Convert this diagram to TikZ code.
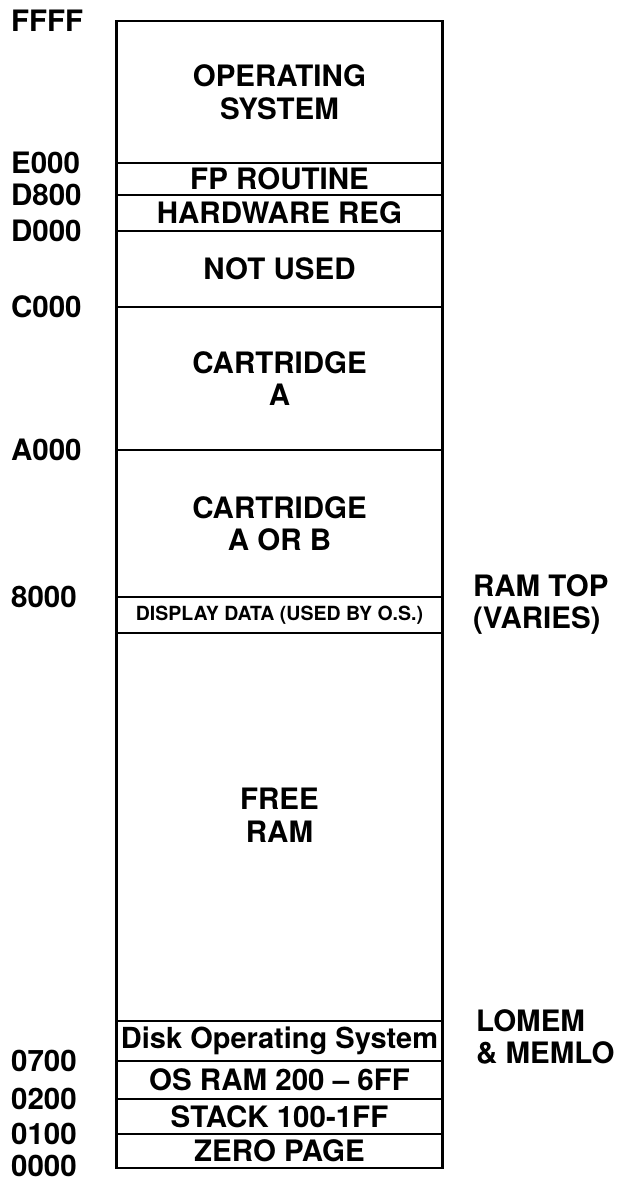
\documentclass[tikz,border=0pt]{standalone}
\usepackage{fontspec}
\setmainfont{TeX Gyre Heros}
\usetikzlibrary{positioning}

\begin{document}
\begin{tikzpicture}[x=1pt, y=-1pt, line width=2.2pt,
    % styles
    region/.style={draw, rectangle, inner sep=0pt, outer sep=0pt,
        minimum width=326pt, align=center,
        font=\bfseries\fontsize{29.5}{32.5}\selectfont},
    addr/.style={anchor=west, inner sep=0pt,
        font=\bfseries\fontsize{29.5}{32}\selectfont},
    note/.style={anchor=west, inner sep=0pt, align=left,
        font=\bfseries\fontsize{29.5}{32}\selectfont}
]
    \useasboundingbox (0,0) rectangle (619,1181);

    % --- memory blocks, top to bottom ---
    \node[region, minimum height=142pt, anchor=north] (os) at (279.5,21) {OPERATING\\SYSTEM};
    \node[region, minimum height=32pt,  below=0pt of os]      (fp)      {FP ROUTINE};
    \node[region, minimum height=36pt,  below=0pt of fp]      (hw)      {HARDWARE REG};
    \node[region, minimum height=76pt,  below=0pt of hw]      (notused) {NOT USED};
    \node[region, minimum height=143pt, below=0pt of notused] (carta)   {CARTRIDGE\\A};
    \node[region, minimum height=147pt, below=0pt of carta]   (cartab)  {CARTRIDGE\\A OR B};
    \node[region, minimum height=36pt,  below=0pt of cartab,
          font=\bfseries\fontsize{19.5}{22}\selectfont]       (display) {DISPLAY DATA (USED BY O.S.)};
    \node[region, minimum height=388pt, below=0pt of display] (free)    {FREE\\RAM\\[-9pt]};
    \node[region, minimum height=40pt,  below=0pt of free,
          font=\bfseries\fontsize{29}{32}\selectfont]         (dos)     {Disk Operating System};
    \node[region, minimum height=38pt,  below=0pt of dos]     (osram)   {OS RAM 200 -- 6FF};
    \node[region, minimum height=35pt,  below=0pt of osram]   (stack)   {STACK 100-1FF};
    \node[region, minimum height=34pt,  below=0pt of stack]   (zero)    {ZERO PAGE};

    % --- addresses on the left ---
    \coordinate (lx) at (10,0);
    \node[addr] (ffff) at (lx |- os.north)      {FFFF};
    \node[addr] (e000) at (lx |- os.south)      {E000};
    \node[addr] (d800) at (lx |- fp.south)      {D800};
    \node[addr] (d000) at (lx |- hw.south)      {D000};
    \node[addr] (c000) at (lx |- notused.south) {C000};
    \node[addr] (a000) at (lx |- carta.south)   {A000};
    \node[addr] (h8000) at (lx |- cartab.south) {8000};
    \node[addr] (h0700) at (lx |- dos.south)    {0700};
    \node[addr] (h0200) at (lx |- osram.south)  {0200};
    \node[addr] (h0100) at (lx |- stack.south)  {0100};
    \node[addr, yshift=2pt] (h0000) at (lx |- zero.south) {0000};

    % --- notes on the right ---
    \node[note] (ramtop) at (472,605)  {RAM TOP\\(VARIES)};
    \node[note] (lomem)  at (475,1037) {LOMEM\\\& MEMLO};

\end{tikzpicture}
\end{document}
